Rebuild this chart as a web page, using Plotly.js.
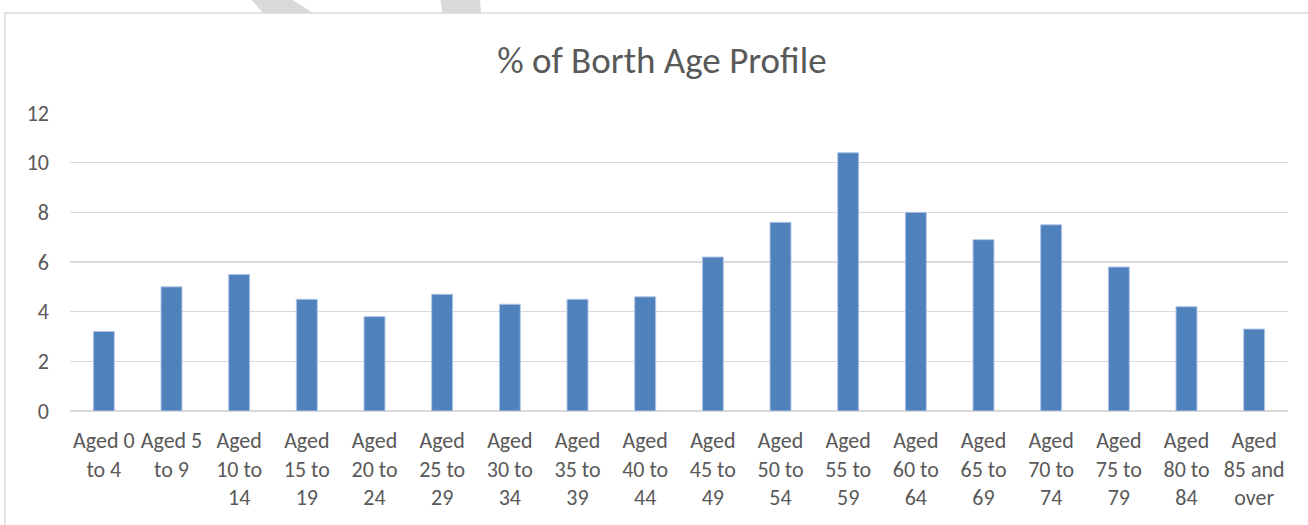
<!DOCTYPE html>
<html>
<head>
<meta charset="utf-8">
<script src="https://cdn.plot.ly/plotly-3.0.1.min.js"></script>
<style>html,body{margin:0;padding:0;background:#fff;}#chart{width:1308px;height:525px;}</style>
</head>
<body>
<div id="chart"></div>
<script>
const categories = [
  "Aged 0<br>to 4", "Aged 5<br>to 9", "Aged<br>10 to<br>14", "Aged<br>15 to<br>19",
  "Aged<br>20 to<br>24", "Aged<br>25 to<br>29", "Aged<br>30 to<br>34", "Aged<br>35 to<br>39",
  "Aged<br>40 to<br>44", "Aged<br>45 to<br>49", "Aged<br>50 to<br>54", "Aged<br>55 to<br>59",
  "Aged<br>60 to<br>64", "Aged<br>65 to<br>69", "Aged<br>70 to<br>74", "Aged<br>75 to<br>79",
  "Aged<br>80 to<br>84", "Aged<br>85 and<br>over"
];
const percentValues = [3.2, 5.0, 5.5, 4.5, 3.8, 4.7, 4.3, 4.5, 4.6, 6.2, 7.6, 10.4, 8.0, 6.9, 7.5, 5.8, 4.2, 3.3];
const yTickValues = [0, 2, 4, 6, 8, 10, 12];

const fontFam = "Carlito, Lato, 'Open Sans', sans-serif";
const textColor = "#595959";

const trace = {
  type: "bar",
  x: categories,
  y: percentValues,
  marker: { color: "#4f81bd", line: { color: "#b4c7e7", width: 1 } },
  hoverinfo: "x+y"
};

const layout = {
  width: 1308,
  height: 525,
  margin: { l: 70, r: 20, t: 113, b: 114 },
  paper_bgcolor: "#ffffff",
  plot_bgcolor: "#ffffff",
  bargap: 0.69,
  showlegend: false,
  title: {
    text: "% of Borth Age Profile",
    font: { family: fontFam, size: 37, color: textColor },
    x: 0.506, xref: "container", xanchor: "center",
    y: 0.885, yref: "container", yanchor: "middle"
  },
  font: { family: fontFam, color: textColor },
  xaxis: {
    type: "category",
    tickfont: { family: fontFam, size: 22, color: textColor },
    showgrid: false,
    showline: false,
    zeroline: false,
    ticks: "",
    tickangle: 0,
    ticklabelstandoff: 14
  },
  yaxis: {
    range: [0, 12],
    tickvals: yTickValues,
    ticktext: yTickValues.map(String),
    tickfont: { family: fontFam, size: 22, color: textColor },
    showgrid: true,
    gridcolor: "#d9d9d9",
    gridwidth: 1.5,
    zeroline: true,
    zerolinecolor: "#d9d9d9",
    zerolinewidth: 1.5,
    showline: false,
    ticks: "",
    ticklabelstandoff: 20
  },
  shapes: [
    {
      type: "rect", xref: "paper", yref: "paper",
      x0: -0.0534, x1: 1.1, y0: -0.6, y1: 1.3356,
      line: { color: "#d9d9d9", width: 1.5 }, fillcolor: "rgba(0,0,0,0)", layer: "below"
    },
    {
      type: "path", xref: "paper", yref: "paper",
      path: "M 0.1478 1.385 L 0.1806 1.385 L 0.1995 1.3356 L 0.1585 1.3356 Z",
      line: { width: 0 }, fillcolor: "#d9d9d9", layer: "above"
    },
    {
      type: "path", xref: "paper", yref: "paper",
      path: "M 0.3038 1.385 L 0.3366 1.385 L 0.3374 1.3356 L 0.306 1.3356 Z",
      line: { width: 0 }, fillcolor: "#d9d9d9", layer: "above"
    }
  ]
};

Plotly.newPlot("chart", [trace], layout, { displayModeBar: false, staticPlot: true });
</script>
</body>
</html>
